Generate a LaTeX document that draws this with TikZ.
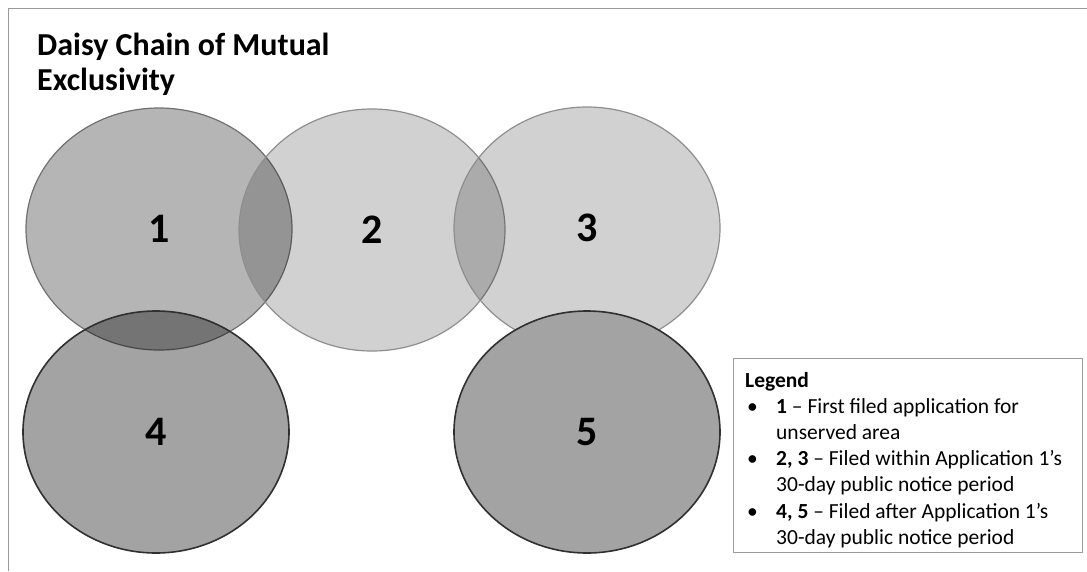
\documentclass[tikz,border=0pt]{standalone}
\usepackage{fontspec}
\setmainfont{Carlito}
\usetikzlibrary{shapes.geometric}
\definecolor{lineA}{HTML}{707070}
\definecolor{lineB}{HTML}{8E8E8E}
\definecolor{lineC}{HTML}{303030}
\definecolor{fillFive}{HTML}{A3A3A3}
\definecolor{frameC}{HTML}{9A9A9A}
\begin{document}
\begin{tikzpicture}[x=1pt,y=-1pt,
  appl/.style={ellipse, inner sep=0pt, minimum width=266pt, minimum height=242pt,
    text opacity=1, font=\fontsize{42}{50}\selectfont\bfseries},
  early/.style={appl, draw=lineB, line width=1.2pt, fill=black, fill opacity=0.18, draw opacity=1},
  first/.style={appl, draw=lineA, line width=1.2pt, fill=black, fill opacity=0.29, draw opacity=1},
  late/.style={appl, draw=lineC, line width=1.6pt}]
\useasboundingbox (0,0) rectangle (1087,571);
\coordinate (fbl) at (8,571);
\coordinate (ftl) at (8,8);
\coordinate (ftr) at (1087,8);
\draw[frameC, line width=1pt] (fbl) -- (ftl) -- (ftr);
\node[anchor=base west, align=left, inner sep=0pt, font=\fontsize{32}{35}\selectfont\bfseries] (title) at (37,90) {Daisy Chain of Mutual\\Exclusivity};
\node[first] (c1) at (159,229) {1};
\node[early] (c2) at (372,230) {2};
\node[early] (c3) at (587,228) {3};
\node[late, fill=black, fill opacity=0.36, draw opacity=1] (c4) at (156,432) {4};
\node[late, fill=fillFive] (c5) at (587,432) {5};
\node[draw=frameC, line width=1pt, anchor=north west, inner sep=0pt, minimum width=349pt, minimum height=194pt] (legbox) at (733,358) {};
\node[anchor=base west, inner sep=0pt, font=\fontsize{21.5}{26.2}\selectfont] (legtext) at (745,387) {%
\begin{tabular}[t]{@{}p{31pt}@{}l@{}}
\multicolumn{2}{@{}l@{}}{\textbf{Legend}}\\
\hspace{2pt}\textbullet & \textbf{1} – First filed application for\\
 & unserved area\\
\hspace{2pt}\textbullet & \textbf{2, 3} – Filed within Application 1’s\\
 & 30-day public notice period\\
\hspace{2pt}\textbullet & \textbf{4, 5} – Filed after Application 1’s\\
 & 30-day public notice period
\end{tabular}};
\end{tikzpicture}
\end{document}
